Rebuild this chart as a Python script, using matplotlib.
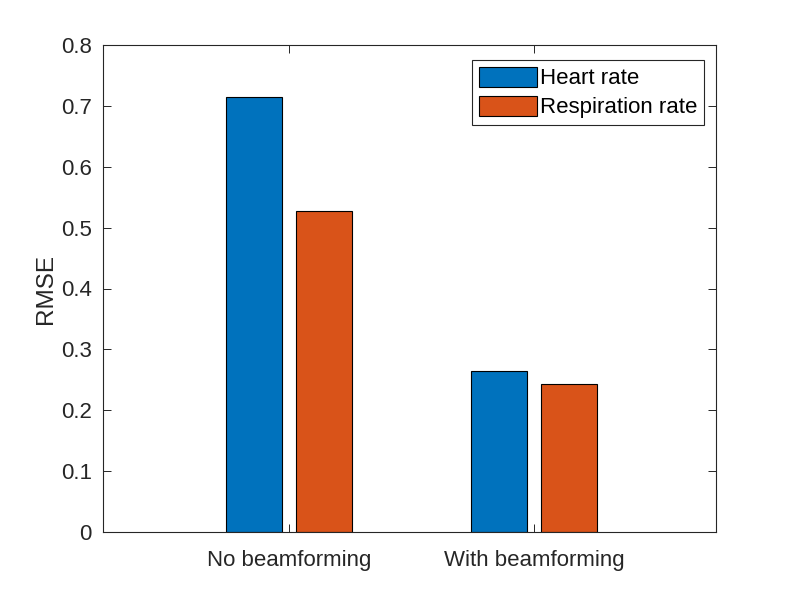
import matplotlib
matplotlib.use("Agg")
import matplotlib.pyplot as plt
import numpy as np

categories = ["No beamforming", "With beamforming"]
series_names = ["Heart rate", "Respiration rate"]
heart_rate = [0.714, 0.265]
respiration_rate = [0.527, 0.243]
yticks = [0, 0.1, 0.2, 0.3, 0.4, 0.5, 0.6, 0.7, 0.8]

plt.rcParams['font.family'] = ['Liberation Sans', 'DejaVu Sans']
axcol = (0.15, 0.15, 0.15)

fig = plt.figure(figsize=(7.97, 5.98), dpi=100)
ax = fig.add_axes([103/797, 66/598, 613/797, 487/598])

x = np.arange(1, len(categories) + 1)
w = 0.228
off = 0.144
ax.bar(x - off, heart_rate, w, color='#0072BD', edgecolor='black', linewidth=0.8, label=series_names[0])
ax.bar(x + off, respiration_rate, w, color='#D95319', edgecolor='black', linewidth=0.8, label=series_names[1])

ax.set_xlim(0.241, 2.743)
ax.set_ylim(0, 0.8)
ax.set_xticks(x)
ax.set_xticklabels(categories)
ax.set_yticks(yticks)
ax.set_yticklabels([f"{v:g}" for v in yticks])
ax.set_ylabel("RMSE", fontsize=17.5, color=axcol, labelpad=3)

ax.tick_params(direction='in', length=6, width=0.7, colors=axcol, labelsize=16,
               top=True, right=True, pad=8)
ax.tick_params(axis='x', pad=13)
for s in ax.spines.values():
    s.set_color(axcol)
    s.set_linewidth(0.8)

leg = ax.legend(loc='upper right', bbox_to_anchor=(0.9804, 0.9692), fontsize=16,
                frameon=True, fancybox=False, edgecolor=axcol, framealpha=1,
                handlelength=2.6, handleheight=1.0, handletextpad=0.15,
                borderpad=0.3, labelspacing=0.3, borderaxespad=0)
leg.get_frame().set_linewidth(0.8)

fig.savefig("out.png", dpi=100)
